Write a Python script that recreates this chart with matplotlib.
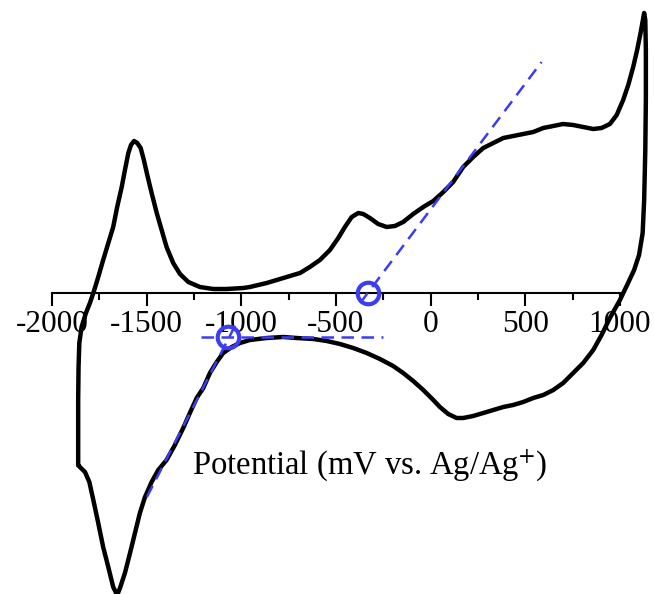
import matplotlib
matplotlib.use("Agg")
import matplotlib.pyplot as plt

# cyclic voltammogram, closed loop (potential in mV, current in arbitrary units)
potential = [
    -1862, -1862, -1860, -1856, -1844, -1821, -1800, -1782, -1756, -1730,
    -1703, -1677, -1656, -1632, -1615, -1597, -1583, -1567, -1550, -1532,
    -1515, -1497, -1474, -1447, -1421, -1395, -1360, -1324, -1280, -1219,
    -1148, -1078, -990, -955, -866, -779, -690, -638, -585, -532,
    -488, -453, -417, -382, -356, -321, -277, -232, -189, -145,
    -92, -39, 14, 67, 119, 172, 225, 278, 331, 384,
    436, 489, 542, 595, 648, 700, 753, 806, 859, 903,
    947, 983, 1017, 1044, 1070, 1091, 1109, 1123, 1128, 1134,
    1137, 1137, 1134, 1128, 1120, 1101, 1075, 1038, 1000,
    947, 903, 859, 806, 753, 700, 648, 595, 542, 489,
    436, 384, 331, 278, 225, 172, 137, 93, 49, 14,
    -39, -92, -145, -198, -268, -338, -409, -479, -549, -620,
    -708, -779, -866, -955, -1007, -1051, -1096, -1130, -1166, -1201,
    -1236, -1272, -1307, -1351, -1395, -1439, -1474, -1509, -1536, -1562,
    -1588, -1615, -1641, -1656, -1677, -1703, -1730, -1756, -1782, -1803,
    -1826, -1853, -1862,
]
current = [
    -17.2, -10.7, -7.4, -5.0, -3.4, -2.0, -1.0, 0.0, 1.6, 3.3,
    5.0, 6.6, 8.6, 10.6, 12.3, 14.0, 14.8, 15.2, 15.0, 14.5,
    13.3, 11.8, 10.0, 8.0, 6.3, 4.6, 3.0, 1.9, 1.1, 0.6,
    0.4, 0.4, 0.5, 0.6, 1.0, 1.5, 2.0, 2.6, 3.3, 4.3,
    5.5, 6.6, 7.6, 8.0, 7.9, 7.5, 6.9, 6.6, 6.7, 7.1,
    7.9, 8.6, 9.2, 10.1, 11.1, 12.6, 13.6, 14.5, 15.0, 15.5,
    15.7, 15.9, 16.1, 16.5, 16.7, 16.9, 16.8, 16.6, 16.4, 16.5,
    16.9, 17.8, 19.3, 20.8, 22.6, 24.3, 26.0, 27.5, 28.0, 27.3,
    24.3, 19.3, 14.3, 9.3, 6.0, 3.8, 2.3, 0.8, -0.7,
    -2.5, -4.2, -5.7, -7.0, -8.0, -9.0, -9.7, -10.2, -10.5, -10.9,
    -11.2, -11.4, -11.7, -12.0, -12.3, -12.5, -12.5, -12.1, -11.4, -10.7,
    -9.7, -8.8, -8.0, -7.3, -6.6, -6.0, -5.5, -5.1, -4.8, -4.6,
    -4.5, -4.4, -4.5, -4.7, -5.0, -5.4, -6.0, -6.9, -8.0, -9.5,
    -10.5, -12.0, -13.5, -15.2, -16.7, -17.7, -18.9, -20.4, -22.0, -24.0,
    -26.0, -28.0, -29.5, -30.2, -29.4, -27.4, -25.4, -23.0, -20.7, -18.9,
    -17.9, -17.4, -17.2,
]

# onset tangents and their intersection points
tangent_ox_x = [-372, 586]
tangent_ox_y = [-1.0, 23.1]
baseline_red_x = [-1215, -250]
baseline_red_y = [-4.4, -4.4]
tangent_red_x = [-1499, -1023]
tangent_red_y = [-20.4, -2.9]
onset_x = [-330, -1070]
onset_y = [0.0, -4.4]

tick_values = [-2000, -1500, -1000, -500, 0, 500, 1000]
minor_values = [-1750, -1250, -750, -250, 250, 750]

plt.rcParams['font.family'] = ['Liberation Serif', 'DejaVu Serif']
plt.rcParams['mathtext.fontset'] = 'stix'

blue = '#3c3cf2'

fig = plt.figure(figsize=(6.54, 5.94), dpi=100)
ax = fig.add_axes([0, 0, 1, 1])

ax.plot(potential, current, color='black', lw=3.2, solid_joinstyle='round',
        solid_capstyle='round', zorder=3)

dash = (0, (5, 3))
ax.plot(tangent_ox_x, tangent_ox_y, color=blue, lw=1.8, linestyle=dash, zorder=4)
ax.plot(baseline_red_x, baseline_red_y, color=blue, lw=1.8, linestyle=dash, zorder=4)
ax.plot(tangent_red_x, tangent_red_y, color=blue, lw=1.8, linestyle=dash, zorder=4)
ax.plot(onset_x, onset_y, 'o', ms=15.5, mfc='none', mec=blue, mew=3, zorder=5)

ax.set_xlim(-2275, 1180)
ax.set_ylim(-30.1, 29.3)

for side in ['top', 'right', 'left']:
    ax.spines[side].set_visible(False)
ax.spines['bottom'].set_position(('data', 0))
ax.spines['bottom'].set_bounds(-2000, 1000)
ax.spines['bottom'].set_linewidth(1.5)
ax.set_yticks([])
ax.set_xticks(tick_values)
ax.set_xticklabels([str(v) for v in tick_values])
ax.set_xticks(minor_values, minor=True)
ax.tick_params(axis='x', which='major', direction='out', length=9, width=1.5,
               labelsize=22.5, pad=3)
ax.tick_params(axis='x', which='minor', direction='out', length=5, width=1.5)
ax.patch.set_visible(False)

ax.set_xlabel(r'Potential (mV vs. Ag/Ag$^{+}$)', fontsize=23.5)
ax.xaxis.set_label_coords(370 / 654, (594 - 465) / 594)
ax.xaxis.label.set_va('center')

fig.savefig('out.png', dpi=100)
